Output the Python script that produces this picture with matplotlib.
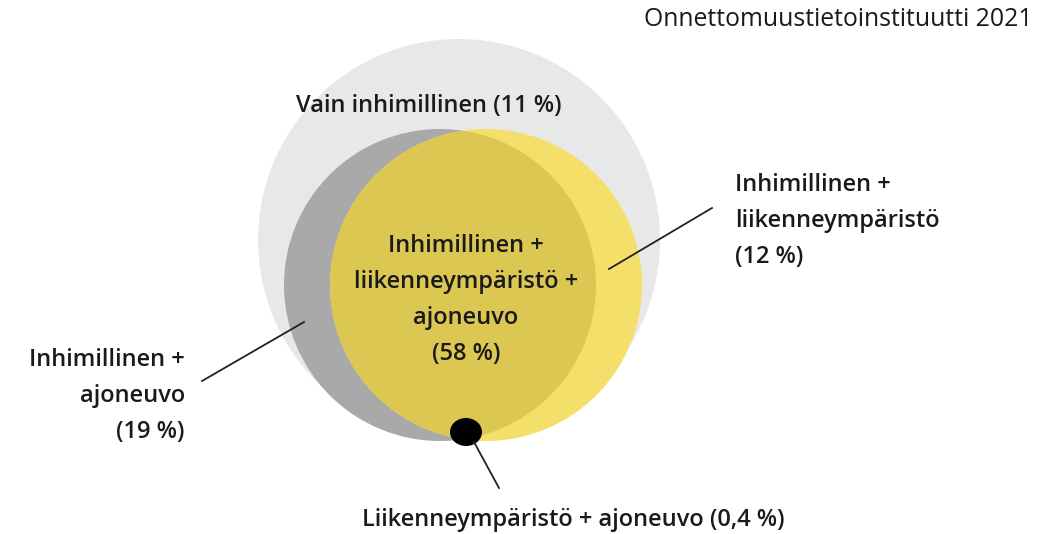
import matplotlib.pyplot as plt
from matplotlib.patches import Circle, Ellipse

# data
categories = ['Vain inhimillinen', 'Inhimillinen +\nliikenneympäristö +\najoneuvo',
              'Inhimillinen +\nliikenneympäristö', 'Inhimillinen +\najoneuvo',
              'Liikenneympäristö + ajoneuvo']
shares = ['11', '58', '12', '19', '0,4']
source = 'Onnettomuustietoinstituutti 2021'

plt.rcParams['font.family'] = ['Open Sans', 'DejaVu Sans']

fig = plt.figure(figsize=(10.43, 5.34), dpi=100)
ax = fig.add_axes([0, 0, 1, 1])
ax.set_xlim(0, 1043)
ax.set_ylim(534, 0)
ax.set_aspect('equal')
ax.axis('off')

# circles (pixel coordinates)
ax.add_patch(Circle((459, 240), 201, color='#e8e8e8', lw=0))
gray = Circle((440, 285), 156, color='#a9a9a9', lw=0)
yellow = Circle((486, 285), 156, color='#f5df6b', lw=0)
ax.add_patch(gray)
ax.add_patch(yellow)
lens = Circle((440, 285), 156, color='#dcc752', lw=0)
ax.add_patch(lens)
lens.set_clip_path(Circle((486, 285), 156, transform=ax.transData))
ax.add_patch(Ellipse((466, 432), 32, 28, color='black', lw=0))

# leader lines
ax.plot([609, 712], [269, 208], color='#222222', lw=1.3)
ax.plot([304, 202], [322, 381], color='#222222', lw=1.3)
ax.plot([474, 499], [442, 488], color='#222222', lw=1.3)

fs = 17
kw = dict(fontsize=fs, fontweight='semibold', color='#1a1a1a', linespacing=1.66)
ax.text(429, 106, f'{categories[0]} ({shares[0]} %)', ha='center', va='center', **kw)
ax.text(466, 300, f'{categories[1]}\n({shares[1]} %)', ha='center', va='center', **kw)
ax.text(735, 221, f'{categories[2]}\n({shares[2]} %)', ha='left', va='center', **kw)
ax.text(185, 396, f'{categories[3]}\n({shares[3]} %)', ha='right', va='center',
        multialignment='right', **kw)
ax.text(573, 520, f'{categories[4]} ({shares[4]} %)', ha='center', va='center', **kw)

ax.text(1033, 20, source, ha='right', va='center', fontsize=17.8,
        fontweight='medium', color='#1a1a1a')

fig.savefig('out.png', dpi=100)
